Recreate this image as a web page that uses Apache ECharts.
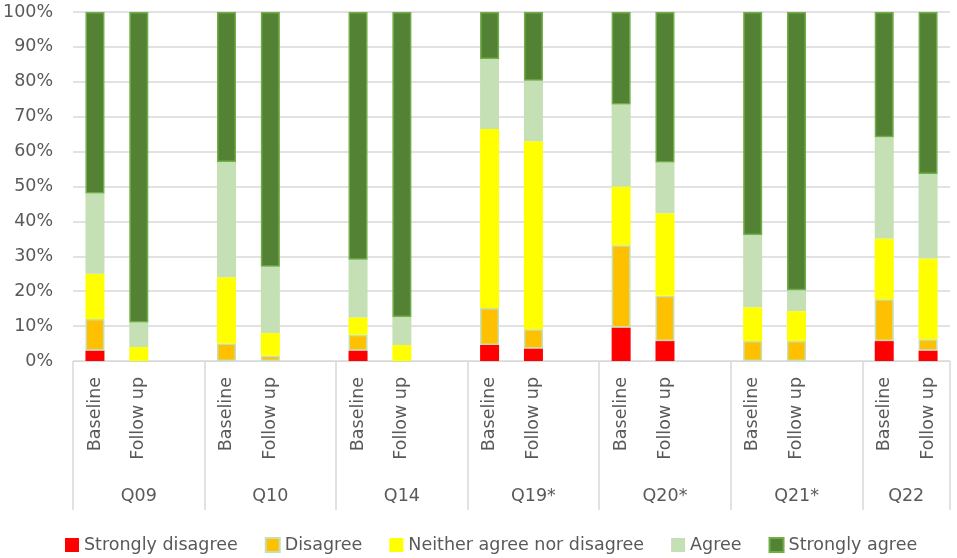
<!DOCTYPE html>
<html><head><meta charset="utf-8">
<script src="https://cdn.jsdelivr.net/npm/echarts@6/dist/echarts.min.js"></script>
<style>html,body{margin:0;padding:0;background:#fff}#c{width:957px;height:558px}</style>
</head><body><div id="c"></div>
<script>
const groups = ['Q09','Q10','Q14','Q19*','Q20*','Q21*','Q22'];
const periods = ['Baseline','Follow up'];
const seriesNames = ['Strongly disagree','Disagree','Neither agree nor disagree','Agree','Strongly agree'];
// bar order: Q09 Baseline, Q09 Follow up, Q10 Baseline, Q10 Follow up, ...
const stronglyDisagree = [3,0, 0,0, 3,0, 4.6,3.6, 9.6,5.7, 0,0, 5.7,3];
const disagree         = [9,0, 5,1.5, 4.5,0, 10.6,5.5, 23.6,13, 5.7,5.7, 12,3.2];
const neither          = [13,4, 19,6.5, 5,4.6, 51.3,53.9, 16.8,23.6, 9.7,8.6, 17.4,23.2];
const agree            = [23,7, 33,19, 16.5,8, 20,17.3, 23.5,14.6, 20.7,6, 29,24.2];
const stronglyAgree    = [52,89, 43,73, 71,87.4, 13.5,19.7, 26.5,43.1, 63.9,79.7, 35.9,46.4];
const yTicks = [0,10,20,30,40,50,60,70,80,90,100];

// build slot layout: each group has Baseline, Follow up, and a blank spacer (except last)
const categories = [];
const slotIndex = [];
const groupCenters = [];
groups.forEach((g, gi) => {
  const start = categories.length;
  periods.forEach((p) => { slotIndex.push(categories.length); categories.push(p); });
  const n = gi < groups.length - 1 ? 3 : 2;
  groupCenters.push(start + n / 2);
  if (gi < groups.length - 1) categories.push('');
});
function expand(arr) {
  const out = categories.map(() => null);
  arr.forEach((v, i) => { out[slotIndex[i]] = v; });
  return out;
}
const FONT = 'DejaVu Sans';
const TXT = '#595959';
const FS = 17.5;
const styles = [
  {color:'#ff0000'},
  {color:'#ffc000', borderColor:'#c5e0b4', borderWidth:1.5},
  {color:'#ffff00'},
  {color:'#c5e0b4'},
  {color:'#548235', borderColor:'#70ad47', borderWidth:1.5}
];
const values = [stronglyDisagree, disagree, neither, agree, stronglyAgree];

const chart = echarts.init(document.getElementById('c'), null, {renderer:'canvas'});
chart.setOption({
  animation:false,
  textStyle:{fontFamily:FONT},
  grid:{left:73, right:7, top:12, bottom:197, containLabel:false},
  legend:{
    top:531, left:60, itemWidth:14, itemHeight:14, itemGap:27, icon:'rect',
    textStyle:{fontSize:FS, color:TXT, fontFamily:FONT}
  },
  xAxis:[
    {
      type:'category', data:categories, position:'bottom',
      axisLine:{lineStyle:{color:'#d9d9d9', width:1}},
      axisTick:{show:true, length:149, lineStyle:{color:'#d9d9d9', width:1.5}, interval:(i)=> i % 3 === 0},
      axisLabel:{interval:0, rotate:90, margin:16, fontSize:FS, color:TXT, fontFamily:FONT},
      splitLine:{show:false}
    },
    {
      type:'value', min:0, max:categories.length, interval:0.5, position:'bottom',
      axisLine:{show:false}, axisTick:{show:false}, splitLine:{show:false},
      axisLabel:{margin:126, fontSize:FS, color:TXT, fontFamily:FONT, hideOverlap:false,
        formatter:(v)=>{ const k = groupCenters.findIndex(c=>Math.abs(c-v)<1e-6); return k>=0 ? groups[k] : ''; }}
    }
  ],
  yAxis:{
    type:'value', min:yTicks[0], max:yTicks[yTicks.length-1], interval:10,
    axisLine:{show:false}, axisTick:{show:false},
    splitLine:{lineStyle:{color:'#d9d9d9', width:1.5}},
    axisLabel:{formatter:'{value}%', fontSize:FS, color:TXT, margin:20, fontFamily:FONT}
  },
  series: seriesNames.map((name, i) => ({
    name, type:'bar', stack:'total', barWidth:19, xAxisIndex:0,
    itemStyle:styles[i],
    emphasis:{disabled:true},
    data: expand(values[i])
  }))
});
</script></body></html>
